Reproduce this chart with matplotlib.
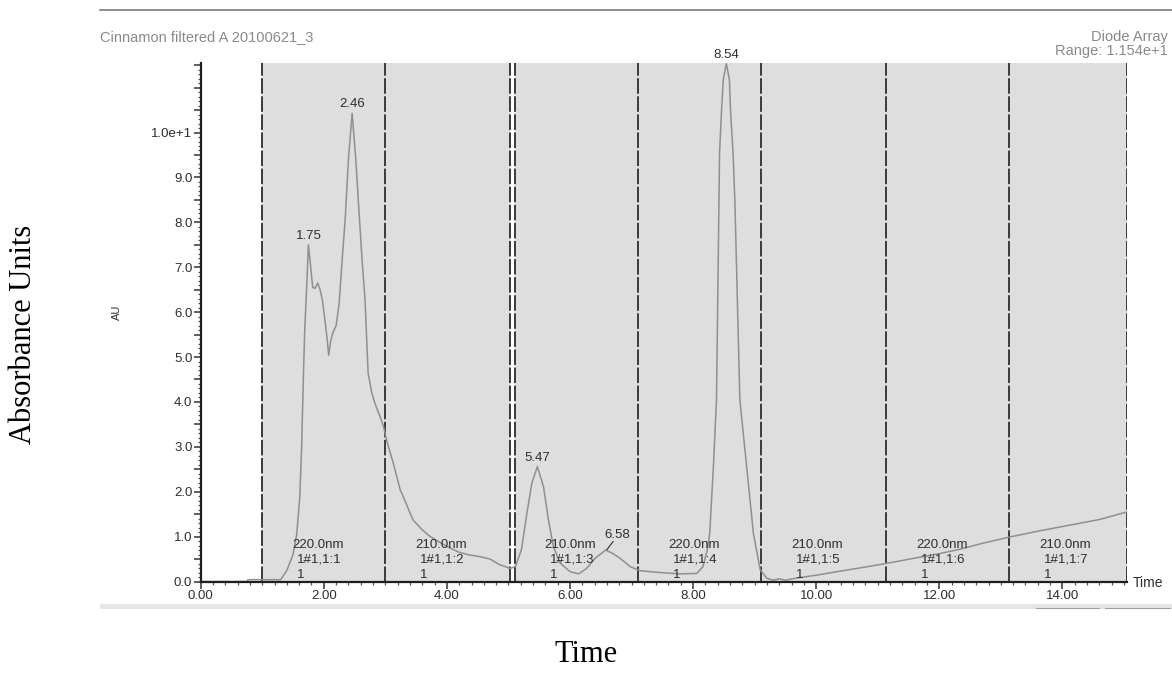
import numpy as np
import matplotlib

matplotlib.use("Agg")
import matplotlib.pyplot as plt
from matplotlib.lines import Line2D
from matplotlib.patches import Rectangle
from matplotlib.ticker import MultipleLocator, FuncFormatter

# ---------------------------------------------------------------- data
# chromatogram trace (time in min, AU)
times = [
    0.00, 0.75, 0.77, 1.25, 1.30, 1.40, 1.50, 1.56, 1.61, 1.64, 1.67, 1.69,
    1.72, 1.75, 1.78, 1.82, 1.86, 1.90, 1.94, 1.98, 2.02, 2.05, 2.08, 2.11,
    2.15, 2.20, 2.25, 2.29, 2.35, 2.40, 2.46, 2.52, 2.56, 2.62, 2.67, 2.72,
    2.78, 2.83, 2.92, 2.97, 3.02, 3.13, 3.24, 3.29, 3.45, 3.60, 3.73, 4.00,
    4.20, 4.37, 4.55, 4.70, 4.85, 5.03, 5.11, 5.21, 5.30, 5.38, 5.47, 5.57,
    5.65, 5.73, 5.84, 6.00, 6.14, 6.27, 6.41, 6.58, 6.70, 6.81, 6.98, 7.14,
    7.46, 7.79, 8.06, 8.16, 8.23, 8.27, 8.33, 8.38, 8.42, 8.43, 8.46, 8.49,
    8.54, 8.59, 8.61, 8.65, 8.68, 8.76, 8.87, 8.98, 9.09, 9.20, 9.30, 9.40,
    9.50, 9.70, 10.00, 10.30, 10.70, 11.13, 11.60, 12.00, 12.34, 12.70,
    13.14, 13.60, 14.10, 14.60, 15.05,
]
absorbance = [
    0.00, 0.00, 0.04, 0.04, 0.04, 0.25, 0.60, 1.05, 1.89, 3.00, 4.64, 5.60,
    6.49, 7.50, 7.10, 6.55, 6.53, 6.65, 6.50, 6.25, 5.80, 5.45, 5.04, 5.35,
    5.55, 5.70, 6.20, 7.01, 8.12, 9.40, 10.43, 9.40, 8.50, 7.20, 6.27, 4.64,
    4.20, 3.97, 3.65, 3.45, 3.15, 2.63, 2.05, 1.89, 1.37, 1.15, 1.00, 0.78,
    0.65, 0.59, 0.55, 0.50, 0.38, 0.29, 0.33, 0.70, 1.52, 2.19, 2.56, 2.11,
    1.37, 0.78, 0.41, 0.22, 0.17, 0.29, 0.52, 0.70, 0.62, 0.52, 0.33, 0.24,
    0.20, 0.17, 0.18, 0.33, 0.70, 1.07, 2.56, 4.04, 8.42, 9.54, 10.43, 11.17,
    11.54, 11.17, 10.43, 9.54, 8.42, 4.04, 2.56, 1.07, 0.26, 0.07, 0.03, 0.06,
    0.03, 0.08, 0.14, 0.21, 0.30, 0.40, 0.52, 0.62, 0.72, 0.85,
    0.99, 1.12, 1.25, 1.38, 1.55,
]

# integration segments (dashed boundaries)
seg_start = [1.00, 3.00, 5.10, 7.10, 9.10, 11.13, 13.13]
seg_end = [3.00, 5.03, 7.10, 9.10, 11.13, 13.13, 15.045]
seg_wavelength = ["220.0nm", "210.0nm", "210.0nm", "220.0nm", "210.0nm", "220.0nm", "210.0nm"]
seg_id = ["1#1,1:1", "1#1,1:2", "1#1,1:3", "1#1,1:4", "1#1,1:5", "1#1,1:6", "1#1,1:7"]

# labelled peaks
peak_time = [1.75, 2.46, 5.47, 8.54]
peak_height = [7.50, 10.43, 2.56, 11.54]
minor_peak_time = 6.58
minor_peak_height = 0.70

x_max = 15.045
y_max = 11.54

# ---------------------------------------------------------------- styling
W, H = 1172, 692
SANS = ["Liberation Sans", "DejaVu Sans"]
SERIF = ["Liberation Serif", "DejaVu Serif"]
dark = "#2e2e2e"

fig = plt.figure(figsize=(W / 100, H / 100), dpi=100)
left, right = 200.7, 1126.7
top, bottom = 63.4, 581.5
ax = fig.add_axes([left / W, 1 - bottom / H, (right - left) / W, (bottom - top) / H])

# shaded segments + dashed borders
for s, e in zip(seg_start, seg_end):
    ax.axvspan(s, e, color="#dedede", lw=0, zorder=0)
bounds = sorted(set(seg_start) | set(seg_end))
for b in bounds:
    ax.axvline(b, color="#3a3a3a", lw=1.4, ls=(0, (8, 1.3)), zorder=1)

ax.plot(times, absorbance, color="#8f8f8f", lw=1.1, zorder=3)

ax.set_xlim(0, x_max)
ax.set_ylim(0, y_max)

# segment annotations
for s, wl, sid in zip(seg_start, seg_wavelength, seg_id):
    ax.text(s + 0.49, 0.81, wl, fontsize=9.5, family=SANS, color=dark, va="center", ha="left", zorder=4)
    ax.text(s + 0.57, 0.48, sid, fontsize=9.5, family=SANS, color=dark, va="center", ha="left", zorder=4)
    ax.text(s + 0.57, 0.15, "1", fontsize=9.5, family=SANS, color=dark, va="center", ha="left", zorder=4)

for t, h in zip(peak_time, peak_height):
    ax.annotate(f"{t:.2f}", (t, h), xytext=(0, 2), textcoords="offset points",
                ha="center", va="bottom", fontsize=9.5, family=SANS, color=dark,
                annotation_clip=False, zorder=4)
# small peak: label offset up-right with a short leader
ax.plot([minor_peak_time + 0.02, minor_peak_time + 0.12],
        [minor_peak_height + 0.01, minor_peak_height + 0.19], color=dark, lw=0.8, zorder=4)
ax.text(minor_peak_time - 0.02, minor_peak_height + 0.21, f"{minor_peak_time:.2f}",
        ha="left", va="bottom", fontsize=9.5, family=SANS, color=dark, zorder=4)

# axes / ticks
for side in ("top", "right"):
    ax.spines[side].set_visible(False)
for side in ("left", "bottom"):
    ax.spines[side].set_color("#1e1e1e")
    ax.spines[side].set_linewidth(1.6)
    ax.spines[side].set_zorder(5)

ax.xaxis.set_major_locator(MultipleLocator(2))
ax.xaxis.set_minor_locator(MultipleLocator(0.2))
ax.xaxis.set_major_formatter(FuncFormatter(lambda v, p: f"{v:.2f}"))
ax.yaxis.set_major_locator(MultipleLocator(0.5))
ax.yaxis.set_minor_locator(MultipleLocator(0.1))


def y_fmt(v, pos):
    if abs(v - round(v)) > 1e-6 or v > 10.5:
        return ""
    return "1.0e+1" if round(v) == 10 else f"{v:.1f}"


ax.yaxis.set_major_formatter(FuncFormatter(y_fmt))
ax.tick_params(axis="both", which="major", direction="out", length=5, width=1.1,
               color="#333333", labelsize=9.5, labelcolor=dark, pad=1)
ax.tick_params(axis="both", which="minor", direction="out", length=2.5, width=0.9,
               color="#555555")
for lab in ax.get_xticklabels() + ax.get_yticklabels():
    lab.set_family(SANS)

ax.set_facecolor("white")

# ---------------------------------------------------------------- frame texts
fig.add_artist(Line2D([100 / W, 1], [1 - 10 / H] * 2, color="#7a7a7a", lw=1.2))
fig.add_artist(Rectangle((100 / W, 1 - 609 / H), 1 - 100 / W, 5 / H,
                         transform=fig.transFigure, color="#e6e6e6", lw=0))
fig.add_artist(Line2D([1036 / W, 1099 / W], [1 - 608 / H] * 2, color="#a0a0a0", lw=0.8))
fig.add_artist(Line2D([1105 / W, 1170 / W], [1 - 608 / H] * 2, color="#a0a0a0", lw=0.8))

fig.text(100 / W, 1 - 37 / H, "Cinnamon filtered A 20100621_3", fontsize=10.5,
         family=SANS, color="#8a8a8a", ha="left", va="center")
fig.text(1168 / W, 1 - 37 / H, "Diode Array", fontsize=10.5, family=SANS,
         color="#8a8a8a", ha="right", va="center")
fig.text(1168 / W, 1 - 51 / H, "Range: 1.154e+1", fontsize=10.5, family=SANS,
         color="#8a8a8a", ha="right", va="center")
fig.text(117 / W, 1 - 312 / H, "AU", fontsize=8, family=SANS, color=dark,
         rotation=90, ha="center", va="center")
fig.text(1133 / W, 1 - 583 / H, "Time", fontsize=10, family=SANS, color=dark,
         ha="left", va="center")

fig.text(586 / W, 1 - 655 / H, "Time", fontsize=22, family=SERIF, color="black",
         ha="center", va="center")
fig.text(24 / W, 1 - 334 / H, "Absorbance Units", fontsize=22, family=SERIF,
         color="black", rotation=90, ha="center", va="center")

fig.savefig("out.png", dpi=100)
